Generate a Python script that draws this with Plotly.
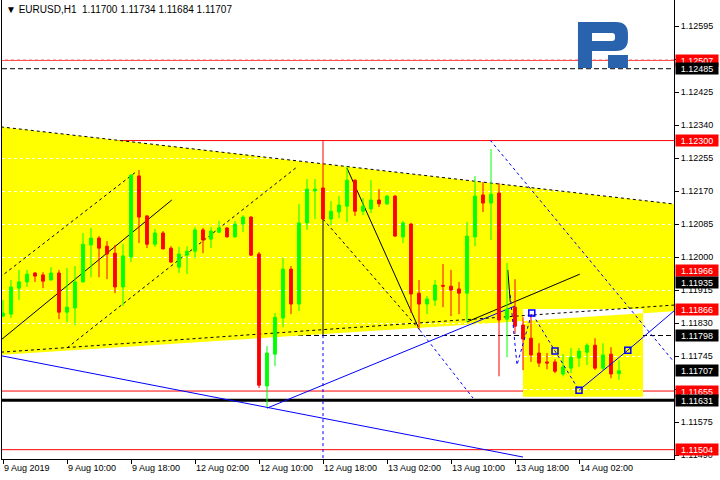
import plotly.graph_objects as go

# ---------------- data ----------------
symbol = "EURUSD,H1"
x_tick_pos = [0, 8, 16, 24, 32, 40, 48, 56, 64, 72]
x_tick_text = ["9 Aug 2019", "9 Aug 10:00", "9 Aug 18:00", "12 Aug 02:00", "12 Aug 10:00",
               "12 Aug 18:00", "13 Aug 02:00", "13 Aug 10:00", "13 Aug 18:00", "14 Aug 02:00"]
y_tick_vals = [1.11490, 1.11575, 1.11660, 1.11745, 1.11830, 1.11915, 1.12000, 1.12085,
               1.12170, 1.12255, 1.12340, 1.12425, 1.12510, 1.12595]
# tick labels fully hidden behind price tags in the original
y_hidden_labels = [1.11660, 1.12510]

opens = [1.11848, 1.11853, 1.11920, 1.11936, 1.11959, 1.11954, 1.11941, 1.11959, 1.11858, 1.11869,
         1.11936, 1.12031, 1.12049, 1.12028, 1.12010, 1.11923, 1.12000, 1.12209, 1.12106, 1.12033,
         1.12062, 1.12023, 1.11974, 1.12005, 1.12015, 1.12070, 1.12046, 1.12064, 1.12075, 1.12052,
         1.12085, 1.12103, 1.12008, 1.11668, 1.11750, 1.11843, 1.11969, 1.11879, 1.12088, 1.12170,
         1.12178, 1.12098, 1.12116, 1.12131, 1.12198, 1.12118, 1.12124, 1.12147, 1.12137, 1.12157,
         1.12052, 1.12085, 1.11907, 1.11879, 1.11889, 1.11927, 1.11925, 1.11918, 1.11907, 1.12052,
         1.12160, 1.12139, 1.12165, 1.11840, 1.11871, 1.11825, 1.11791, 1.11753, 1.11730, 1.11730,
         1.11699, 1.11714, 1.11740, 1.11755, 1.11773, 1.11714, 1.11750, 1.11700]
highs = [1.11889, 1.11941, 1.11967, 1.11967, 1.11961, 1.11961, 1.11974, 1.11967, 1.11972, 1.11977,
         1.12062, 1.12075, 1.12054, 1.12041, 1.12031, 1.12033, 1.12213, 1.12224, 1.12108, 1.12072,
         1.12067, 1.12028, 1.12026, 1.12028, 1.12077, 1.12075, 1.12077, 1.12093, 1.12077, 1.12093,
         1.12108, 1.12105, 1.12013, 1.11771, 1.11856, 1.11997, 1.11977, 1.12137, 1.12201, 1.12201,
         1.12300, 1.12144, 1.12157, 1.12232, 1.12200, 1.12152, 1.12198, 1.12175, 1.12160, 1.12160,
         1.12093, 1.12088, 1.11941, 1.11900, 1.11941, 1.11982, 1.11967, 1.11936, 1.12090, 1.12209,
         1.12193, 1.12278, 1.12191, 1.11985, 1.11943, 1.11845, 1.11853, 1.11778, 1.11753, 1.11737,
         1.11750, 1.11766, 1.11766, 1.11778, 1.11791, 1.11778, 1.11768, 1.11734]
lows = [1.11845, 1.11843, 1.11889, 1.11923, 1.11936, 1.11920, 1.11939, 1.11840, 1.11833, 1.11825,
        1.11934, 1.11948, 1.11948, 1.11943, 1.11907, 1.11874, 1.11987, 1.12036, 1.12023, 1.12026,
        1.12020, 1.11985, 1.11959, 1.11956, 1.11997, 1.12010, 1.12023, 1.12062, 1.12050, 1.12050,
        1.12064, 1.12003, 1.11663, 1.11614, 1.11719, 1.11820, 1.11853, 1.11861, 1.12070, 1.12098,
        1.12095, 1.12082, 1.12100, 1.12090, 1.12106, 1.12108, 1.12113, 1.12129, 1.12134, 1.12052,
        1.12036, 1.11856, 1.11815, 1.11853, 1.11874, 1.11871, 1.11848, 1.11853, 1.11833, 1.12028,
        1.12116, 1.12044, 1.11693, 1.11742, 1.11802, 1.11709, 1.11730, 1.11717, 1.11711, 1.11701,
        1.11693, 1.11701, 1.11717, 1.11722, 1.11709, 1.11709, 1.11688, 1.11684]
closes = [1.11856, 1.11923, 1.11936, 1.11956, 1.11951, 1.11938, 1.11959, 1.11858, 1.11871, 1.11936,
          1.12033, 1.12049, 1.12023, 1.12008, 1.11923, 1.12003, 1.12211, 1.12103, 1.12033, 1.12062,
          1.12021, 1.11987, 1.12008, 1.12015, 1.12070, 1.12044, 1.12067, 1.12075, 1.12052, 1.12085,
          1.12103, 1.12005, 1.11670, 1.11753, 1.11845, 1.11969, 1.11879, 1.12088, 1.12175, 1.12175,
          1.12098, 1.12118, 1.12134, 1.12198, 1.12118, 1.12131, 1.12147, 1.12137, 1.12157, 1.12054,
          1.12088, 1.11905, 1.11879, 1.11892, 1.11928, 1.11925, 1.11915, 1.11907, 1.12054, 1.12157,
          1.12139, 1.12162, 1.11838, 1.11866, 1.11822, 1.11789, 1.11748, 1.11727, 1.11727, 1.11706,
          1.11717, 1.11742, 1.11758, 1.11773, 1.11714, 1.11748, 1.11699, 1.11707]

# horizontal levels
red_levels = [1.12507, 1.12300, 1.11966, 1.11866, 1.11655, 1.11504]
black_dash_levels = [1.12485, 1.11935, 1.11798]
thick_level = 1.11631

# filled regions (bar index, price)
wedge_top = [(-1, 1.12337), (85, 1.12134)]
wedge_bottom = [(-1, 1.11747), (85, 1.11862)]
box_x = [65, 80]
box_y = [1.11640, 1.11866]

# trend objects: (x0, y0, x1, y1)
black_dashed_lines = [(-1, 1.12337, 85, 1.12134),      # wedge top
                      (-1, 1.11754, 85, 1.11878),      # wedge bottom
                      (-1, 1.11938, 16.6, 1.12219),    # channel upper
                      (8, 1.11766, 36.75, 1.12232),    # channel lower
                      (40, 1.12098, 52.1, 1.11812)]
black_solid_lines = [(-1, 1.11774, 21.1, 1.12147),     # channel middle
                     (43, 1.12229, 51.9, 1.11820),
                     (58, 1.11833, 72.1, 1.11956),
                     (40, 1.12098, 40, 1.11799),
                     (63.1, 1.11967, 63.4, 1.11885)]
blue_solid_lines = [(-1, 1.11749, 65, 1.11485),
                    (33, 1.11611, 64, 1.11874)]
blue_dashed_lines = [(52.1, 1.11812, 58.75, 1.11637),
                     (60.9, 1.12301, 85, 1.11702),
                     (40, 1.11799, 40, 1.11480)]
forecast_x = [63.4, 64.25, 66.1, 69, 72]
forecast_y = [1.11902, 1.11722, 1.11856, 1.11758, 1.11657]
path_x = [72, 78.1, 85]
path_y = [1.11657, 1.11760, 1.11881]
marker_x = [66.1, 69, 72, 78.1]
marker_y = [1.11856, 1.11758, 1.11657, 1.11760]

# ---------------- figure ----------------
FONT = "'Liberation Sans', Arial, sans-serif"
TICK_SIZE = 9
XR = [-0.125, 83.875]
YR = [1.11480, 1.12662]

idx = list(range(len(opens)))
fig = go.Figure()
fig.add_trace(go.Candlestick(
    x=idx, open=opens, high=highs, low=lows, close=closes,
    increasing=dict(line=dict(color="#00FF00", width=1), fillcolor="#00FF00"),
    decreasing=dict(line=dict(color="#FF0000", width=1), fillcolor="#FF0000"),
    whiskerwidth=0, hoverinfo="skip", showlegend=False))

shapes = []
(wx0, wt0), (wx1, wt1) = wedge_top
(_, wb0), (_, wb1) = wedge_bottom
shapes.append(dict(type="path", layer="below", xref="x", yref="y",
                   path=f"M{wx0},{wt0} L{wx1},{wt1} L{wx1},{wb1} L{wx0},{wb0} Z",
                   fillcolor="#FFFF00", line=dict(width=0)))
shapes.append(dict(type="rect", layer="below", xref="x", yref="y",
                   x0=box_x[0], x1=box_x[1], y0=box_y[0], y1=box_y[1],
                   fillcolor="#FFFF00", line=dict(width=0)))


def wedge_bottom_at(x):
    return wb0 + (wb1 - wb0) * (x - wx0) / (wx1 - wx0)


shapes.append(dict(type="path", layer="below", xref="x", yref="y",
                   path=(f"M{box_x[0]},{box_y[1]} L{box_x[1]},{box_y[1]} "
                         f"L{box_x[1]},{wedge_bottom_at(box_x[1])} L{box_x[0]},{wedge_bottom_at(box_x[0])} Z"),
                   fillcolor="#FFFFFF", line=dict(width=0)))

shapes.append(dict(type="line", layer="between", xref="paper", yref="y", x0=0, x1=1,
                   y0=closes[-1], y1=closes[-1], line=dict(color="#FFFFFF", width=1)))

for lv in red_levels:
    shapes.append(dict(type="line", layer="between", xref="paper", yref="y", x0=0, x1=1,
                       y0=lv, y1=lv, line=dict(color="#FF0000", width=1)))
for lv in black_dash_levels:
    shapes.append(dict(type="line", layer="between", xref="paper", yref="y", x0=0, x1=1,
                       y0=lv, y1=lv, line=dict(color="#000000", width=1, dash="5px,3px")))

for (a, b, c, d) in blue_solid_lines:
    shapes.append(dict(type="line", layer="between", xref="x", yref="y", x0=a, y0=b, x1=c, y1=d,
                       line=dict(color="#0000FF", width=1)))
for (a, b, c, d) in blue_dashed_lines:
    shapes.append(dict(type="line", layer="between", xref="x", yref="y", x0=a, y0=b, x1=c, y1=d,
                       line=dict(color="#0000FF", width=1, dash="3px,3px")))
for (a, b, c, d) in black_dashed_lines:
    shapes.append(dict(type="line", layer="between", xref="x", yref="y", x0=a, y0=b, x1=c, y1=d,
                       line=dict(color="#000000", width=1, dash="3px,3px")))
for (a, b, c, d) in black_solid_lines:
    shapes.append(dict(type="line", layer="between", xref="x", yref="y", x0=a, y0=b, x1=c, y1=d,
                       line=dict(color="#000000", width=1)))

shapes.append(dict(type="line", layer="between", xref="paper", yref="y", x0=0, x1=1,
                   y0=thick_level, y1=thick_level, line=dict(color="#000000", width=3)))


def px(xp, yp):
    return f"{(xp - 2) / 672:.4f},{(459 - yp) / 459:.4f}"


logo_path = ("M" + px(578, 22) + " L" + px(616, 22) + " Q" + px(628, 22) + " " + px(628, 34) +
             " L" + px(628, 39) + " Q" + px(628, 51) + " " + px(616, 51) + " L" + px(592, 51) +
             " L" + px(592, 68) + " L" + px(578, 68) + " Z " +
             "M" + px(592, 33) + " L" + px(612, 33) + " Q" + px(615, 33) + " " + px(615, 36) +
             " L" + px(615, 38) + " Q" + px(615, 41) + " " + px(612, 41) + " L" + px(592, 41) + " Z")
shapes.append(dict(type="path", layer="above", xref="paper", yref="paper", path=logo_path,
                   fillcolor="#2A63AD", fillrule="evenodd", line=dict(width=0)))
shapes.append(dict(type="path", layer="above", xref="paper", yref="paper",
                   path="M" + px(608, 55) + " L" + px(628, 55) + " L" + px(628, 68) + " L" + px(608, 68) + " Z",
                   fillcolor="#2A63AD", line=dict(width=0)))

fig.add_trace(go.Scatter(x=forecast_x, y=forecast_y, mode="lines",
                         line=dict(color="#0000FF", width=1, dash="3px,3px"),
                         hoverinfo="skip", showlegend=False))
fig.add_trace(go.Scatter(x=path_x, y=path_y, mode="lines",
                         line=dict(color="#0000FF", width=1),
                         hoverinfo="skip", showlegend=False))
fig.add_trace(go.Scatter(x=marker_x, y=marker_y, mode="markers",
                         marker=dict(symbol="square-open", size=6, color="#0000FF", line=dict(width=1.5)),
                         hoverinfo="skip", showlegend=False))

annotations = []
tags = [(v, "#FF0000") for v in red_levels] + [(v, "#000000") for v in black_dash_levels] + \
       [(thick_level, "#000000"), (closes[-1], "#000000")]
for v, col in tags:
    annotations.append(dict(xref="paper", yref="y", x=1, y=v, xanchor="left", yanchor="middle",
                            xshift=1, text=f"{v:.5f}", showarrow=False, bgcolor=col,
                            font=dict(color="#FFFFFF", size=TICK_SIZE, family=FONT),
                            width=42, height=11, borderpad=0, align="center"))

hdr = (f"\u25BC\u00a0{symbol}\u00a0\u00a0{opens[-1]:.5f} {highs[-1]:.5f} "
       f"{lows[-1]:.5f} {closes[-1]:.5f}")
annotations.append(dict(xref="paper", yref="paper", x=(4 - 2) / 672, y=(459 - 10) / 459,
                        xanchor="left", yanchor="middle", text=hdr, showarrow=False,
                        font=dict(color="#000000", size=10, family=FONT)))

y_tick_text = ["" if any(abs(v - h) < 1e-9 for h in y_hidden_labels) else f"{v:.5f}"
               for v in y_tick_vals]

fig.update_layout(
    width=720, height=480, margin=dict(l=2, r=46, t=0, b=21, autoexpand=False),
    paper_bgcolor="#FFFFFF", plot_bgcolor="#FFFFFF",
    showlegend=False, hovermode=False, boxgap=0.5,
    font=dict(family=FONT, size=TICK_SIZE, color="#000000"),
    shapes=shapes, annotations=annotations,
    xaxis=dict(range=XR, tickmode="array", tickvals=x_tick_pos, ticktext=x_tick_text,
               ticks="outside", ticklen=4, tickcolor="#000000", showline=True,
               linecolor="#000000", linewidth=1, showgrid=False, zeroline=False,
               rangeslider=dict(visible=False), ticklabelposition="outside right",
               tickangle=0, automargin=False,
               tickfont=dict(size=TICK_SIZE, family=FONT, color="#000000"), fixedrange=True),
    yaxis=dict(range=YR, side="right", tickmode="array", tickvals=y_tick_vals,
               ticktext=y_tick_text, ticks="outside", ticklen=4,
               tickcolor="#000000", showline=True, mirror=True, linecolor="#000000", linewidth=1,
               showgrid=True, gridcolor="#FFFFFF", griddash="3px,3px", gridwidth=1,
               automargin=False,
               zeroline=False, tickfont=dict(size=TICK_SIZE, family=FONT, color="#000000"), fixedrange=True),
)

fig.write_html("out.html", config={"staticPlot": True},
               post_script="document.body.style.margin='0';document.body.style.overflow='hidden';")
